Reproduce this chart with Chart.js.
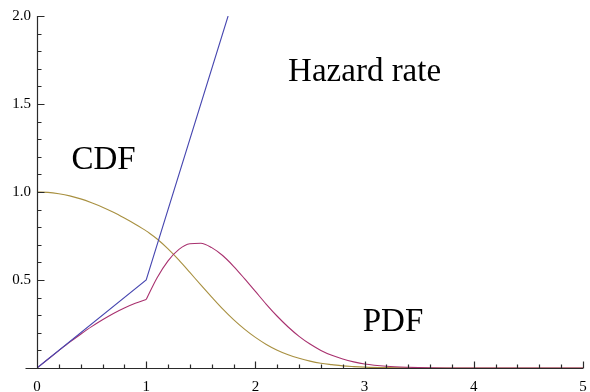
<!DOCTYPE html>
<html>
<head>
<meta charset="utf-8">
<script src="https://cdn.jsdelivr.net/npm/chart.js@4/dist/chart.umd.min.js"></script>
<style>
  html, body { margin: 0; padding: 0; background: #fff; }
  #wrap { width: 590px; height: 392px; }
</style>
</head>
<body>
<div id="wrap"><canvas id="myChart" width="590" height="392"></canvas></div>
<script>
// values
var hazX = [0, 1, 1.75];
var hazY = [0, 0.5, 2.0];

// left piece (0..1) and right piece (1..5) of the PDF and CDF curves
var leftX = [0, 0.1, 0.2, 0.3, 0.4, 0.5, 0.6, 0.7, 0.8, 0.9, 1.0];
var pdfLeft = [0, 0.050, 0.099, 0.147, 0.192, 0.235, 0.274, 0.310, 0.341, 0.368, 0.389];
var cdfLeft = [1, 0.998, 0.990, 0.978, 0.961, 0.939, 0.914, 0.885, 0.852, 0.817, 0.779];

var rightX = [1.0, 1.1, 1.2, 1.3, 1.4, 1.5, 1.6, 1.7, 1.8, 1.9, 2.0,
    2.1, 2.2, 2.3, 2.4, 2.5, 2.6, 2.7, 2.8, 2.9, 3.0,
    3.2, 3.4, 3.6, 3.8, 4.0, 4.5, 5.0];
var pdfRight = [0.389, 0.513, 0.609, 0.674, 0.706, 0.709, 0.684, 0.639, 0.578, 0.508, 0.435,
    0.362, 0.294, 0.233, 0.180, 0.136, 0.100, 0.072, 0.051, 0.035, 0.023,
    0.010, 0.004, 0.001, 0.0003, 0, 0, 0];
var cdfRight = [0.779, 0.733, 0.677, 0.613, 0.543, 0.472, 0.403, 0.336, 0.275, 0.221, 0.174,
    0.134, 0.101, 0.075, 0.055, 0.039, 0.027, 0.019, 0.012, 0.008, 0.005,
    0.002, 0.0007, 0.0002, 0, 0, 0, 0];

var xTicks = [0, 1, 2, 3, 4, 5];
var yTicks = [0.5, 1.0, 1.5, 2.0];

var curveLabels = [
    { text: "Hazard rate", x: 3.0, y: 1.68 },
    { text: "CDF", x: 0.61, y: 1.18 },
    { text: "PDF", x: 3.26, y: 0.26 }
];

function pts(xs, ys) {
    return xs.map(function (x, i) { return { x: x, y: ys[i] }; });
}

var blue = "#4646b0", purple = "#a8306e", olive = "#a89040";
var axisColor = "#2a2a2a";

var decorPlugin = {
    id: "decor",
    afterDraw: function (chart) {
        var ctx = chart.ctx;
        var sx = chart.scales.x, sy = chart.scales.y;
        var x0 = Math.round(sx.getPixelForValue(0)) + 0.5;
        var y0 = Math.round(sy.getPixelForValue(0)) + 0.5;
        var xEnd = sx.getPixelForValue(5);
        var yTop = sy.getPixelForValue(2);
        ctx.save();
        ctx.strokeStyle = axisColor;
        ctx.lineWidth = 1.2;
        ctx.beginPath();
        ctx.moveTo(x0, yTop);
        ctx.lineTo(x0, y0);
        ctx.moveTo(x0 - 12, y0);
        ctx.lineTo(xEnd, y0);
        // y ticks, every 0.1
        for (var i = 1; i <= 20; i++) {
            var py = Math.round(sy.getPixelForValue(i / 10)) + 0.5;
            var len = (i % 5 === 0) ? 7 : 4;
            ctx.moveTo(x0, py);
            ctx.lineTo(x0 + len, py);
        }
        // x ticks, every 0.2
        for (var j = 1; j <= 25; j++) {
            var px = Math.round(sx.getPixelForValue(j / 5)) + 0.5;
            var l2 = (j % 5 === 0) ? 7 : 4;
            ctx.moveTo(px, y0);
            ctx.lineTo(px, y0 - l2);
        }
        ctx.stroke();

        ctx.fillStyle = "#000";
        ctx.font = "33px 'Liberation Serif', 'Times New Roman', serif";
        ctx.textAlign = "center";
        ctx.textBaseline = "middle";
        curveLabels.forEach(function (c) {
            ctx.fillText(c.text, sx.getPixelForValue(c.x), sy.getPixelForValue(c.y));
        });
        ctx.restore();
    }
};

function line(data, color) {
    return {
        data: data,
        borderColor: color,
        borderWidth: 1.1,
        pointRadius: 0,
        cubicInterpolationMode: "monotone"
    };
}

var tickFont = { family: "'Liberation Serif', 'Times New Roman', serif", size: 15 };

var chart = new Chart(document.querySelector("#myChart").getContext("2d"), {
    type: "line",
    data: {
        datasets: [
            Object.assign(line(pts(hazX, hazY), blue), { cubicInterpolationMode: "default", tension: 0 }),
            line(pts(leftX, pdfLeft), purple),
            line(pts(rightX, pdfRight), purple),
            line(pts(leftX, cdfLeft), olive),
            line(pts(rightX, cdfRight), olive)
        ]
    },
    options: {
        responsive: false,
        animation: false,
        layout: { padding: { top: 16, right: 7, left: 0, bottom: 0 } },
        plugins: { legend: { display: false }, tooltip: { enabled: false } },
        scales: {
            x: {
                type: "linear",
                min: 0, max: 5,
                afterBuildTicks: function (s) { s.ticks = xTicks.map(function (v) { return { value: v }; }); },
                afterFit: function (s) { s.height = 24; s.paddingLeft = 0; s.paddingRight = 0; },
                grid: { display: false, drawTicks: false },
                border: { display: false },
                ticks: {
                    padding: 10,
                    maxRotation: 0,
                    autoSkip: false,
                    color: "#000",
                    font: tickFont,
                    callback: function (v) { return String(v); }
                }
            },
            y: {
                type: "linear",
                min: 0, max: 2,
                afterBuildTicks: function (s) { s.ticks = yTicks.map(function (v) { return { value: v }; }); },
                afterFit: function (s) { s.width = 37; s.paddingTop = 0; s.paddingBottom = 0; },
                grid: { display: false, drawTicks: false },
                border: { display: false },
                ticks: {
                    padding: 6,
                    autoSkip: false,
                    color: "#000",
                    font: tickFont,
                    callback: function (v) { return Number(v).toFixed(1); }
                }
            }
        }
    },
    plugins: [decorPlugin]
});
</script>
</body>
</html>
